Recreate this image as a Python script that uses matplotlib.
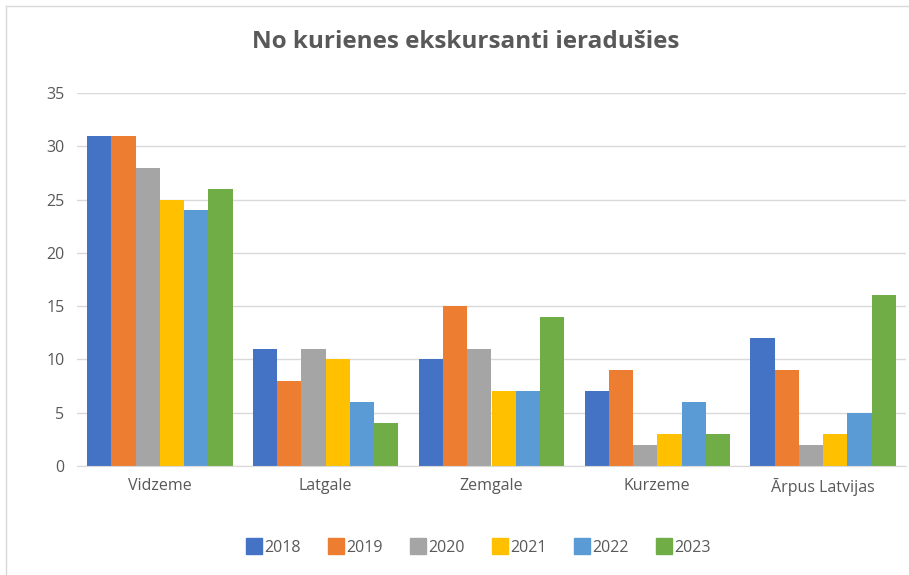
import matplotlib
matplotlib.use("Agg")
import matplotlib.pyplot as plt
import numpy as np
from matplotlib.lines import Line2D

categories = ["Vidzeme", "Latgale", "Zemgale", "Kurzeme", "Ārpus Latvijas"]
years = ["2018", "2019", "2020", "2021", "2022", "2023"]
values = {
    "2018": [31, 11, 10, 7, 12],
    "2019": [31, 8, 15, 9, 9],
    "2020": [28, 11, 11, 2, 2],
    "2021": [25, 10, 7, 3, 3],
    "2022": [24, 6, 7, 6, 5],
    "2023": [26, 4, 14, 3, 16],
}
colors = ["#4472C4", "#ED7D31", "#A5A5A5", "#FFC000", "#5B9BD5", "#70AD47"]

plt.rcParams["font.family"] = ["Open Sans", "DejaVu Sans"]
text_color = "#595959"

W, H = 909, 575
fig = plt.figure(figsize=(W / 100, H / 100), dpi=100)
ax = fig.add_axes([77 / W, 1 - 466 / H, (906 - 77) / W, (466 - 93) / H])

n = len(years)
gap = 0.84
bw = 1.0 / (n + gap)
x = np.arange(len(categories))
for i, (yr, c) in enumerate(zip(years, colors)):
    offs = (i - (n - 1) / 2) * bw
    ax.bar(x + offs, values[yr], width=bw, color=c, label=yr, zorder=3)

ax.set_xlim(-0.5, len(categories) - 0.5)
ax.set_ylim(0, 35)
ax.set_yticks(range(0, 36, 5))
ax.set_xticks(x)
ax.set_xticklabels(categories)
ax.yaxis.grid(True, color="#D9D9D9", linewidth=1, zorder=0)
ax.tick_params(axis="both", length=0, labelsize=11.5, colors=text_color)
ax.tick_params(axis="y", pad=9)
ax.tick_params(axis="x", pad=9)
for s in ["top", "right", "left"]:
    ax.spines[s].set_visible(False)
ax.spines["bottom"].set_color("#D9D9D9")
ax.spines["bottom"].set_zorder(4)

fig.text(466 / W, 1 - 42 / H, "No kurienes ekskursanti ieradušies",
         ha="center", va="center", fontsize=17.5, fontweight="bold", color=text_color)

handles = [Line2D([], [], marker="s", linestyle="none", markersize=11,
                  markerfacecolor=c, markeredgecolor=c) for c in colors]
fig.legend(handles, years, loc="center", bbox_to_anchor=(478 / W, 1 - 548 / H),
           ncol=n, frameon=False, fontsize=11.5, labelcolor=text_color,
           handletextpad=0.15, columnspacing=1.7, handlelength=1.0)

# chart frame
fig.add_artist(Line2D([6 / W, 6 / W], [0, 1 - 6 / H], transform=fig.transFigure,
                      color="#D9D9D9", linewidth=1))
fig.add_artist(Line2D([6 / W, 1], [1 - 6 / H, 1 - 6 / H], transform=fig.transFigure,
                      color="#D9D9D9", linewidth=1))

fig.savefig("out.png", dpi=100, facecolor="white")
